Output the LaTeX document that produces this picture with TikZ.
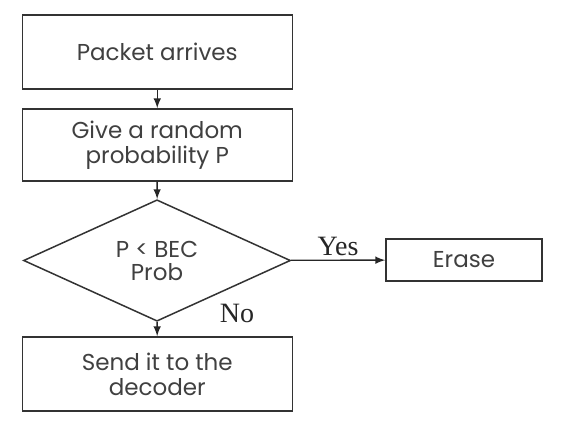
\documentclass[tikz,border=0pt]{standalone}
\usepackage{fontspec}
\usepackage{tikz}
\usetikzlibrary{shapes.geometric}
\newfontfamily\boxfont{Poppins}
\newfontfamily\labelfont{Liberation Serif}

\begin{document}
\begin{tikzpicture}[x=0.5pt, y=-0.5pt, >=latex,
        stepbox/.style={rectangle, draw=black!80, line width=0.75pt, fill=white, inner sep=0pt, minimum width=135pt, align=center, text=black!75, font=\boxfont\fontsize{11.5}{12.5}\selectfont},
        choice/.style={diamond, draw=black!80, line width=0.75pt, fill=white, inner sep=0pt, minimum width=133.5pt, minimum height=55.5pt, align=center, text=black!75, font=\boxfont\fontsize{11.5}{11.5}\selectfont},
        answer/.style={text=black!85, font=\labelfont\fontsize{14}{16}\selectfont}]
                \useasboundingbox (0, 0) rectangle (565, 437);
                \node[stepbox, minimum height=37pt] (arrive) at (157.25, 52) {Packet arrives};
                \node[stepbox, minimum height=36pt] (random) at (157.25, 145) {Give a random\\probability P};
                \node[choice] (check) at (157, 260.5) {P < BEC\\Prob};
                \node[stepbox, minimum width=78pt, minimum height=21pt] (erase) at (464, 260) {Erase};
                \node[stepbox, minimum height=37pt] (decode) at (157.25, 374) {Send it to the\\decoder};
                
                \draw[->, draw=black!85, line width=0.7pt] (arrive) -- (random);
                \draw[->, draw=black!85, line width=0.7pt] (random) -- (check);
                \draw[->, draw=black!85, line width=0.7pt] (check) -- node[answer, above, pos=0.5, inner sep=2pt] {Yes} (erase);
                \draw[->, draw=black!85, line width=0.7pt] (check) -- (decode);
                \node[answer] (no) at (237, 313) {No};
            \end{tikzpicture}
\end{document}
